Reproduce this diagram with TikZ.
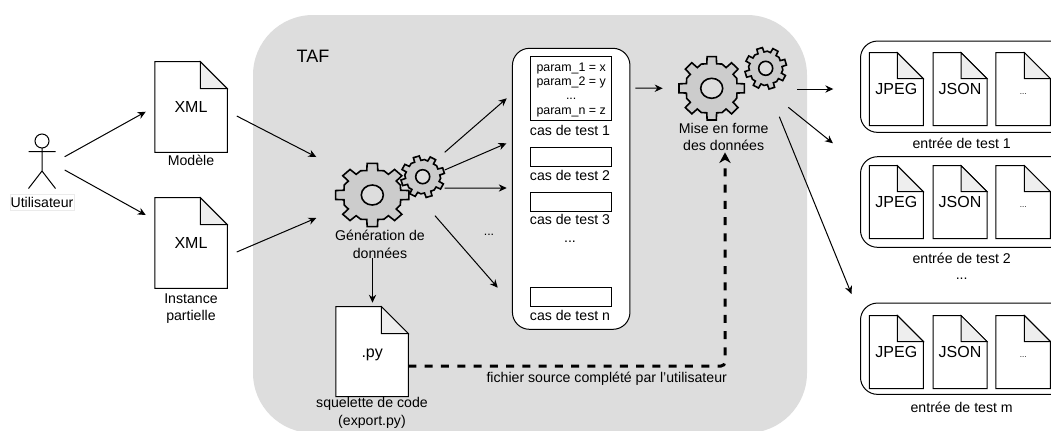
\documentclass[tikz,border=0pt]{standalone}
\usepackage{fontspec}
\setmainfont{Liberation Sans}
\usetikzlibrary{arrows.meta}

% a page with a folded corner: name, centre, width, height, fold, text
\newcommand{\docfile}[6]{
	\node[file style, minimum width=#3*0.75pt, minimum height=#4*0.75pt] (#1) at (#2) {};
	\draw[fill=white] (#1.north west) -- ([shift={(#3-#5,0)}]#1.north west) -- ([shift={(0,#5)}]#1.north east) -- (#1.south east) -- (#1.south west) -- cycle;
	\draw[fill=foldgray] ([shift={(#3-#5,0)}]#1.north west) -- ([shift={(0,#5)}]#1.north east) -- ([shift={(-#5,#5)}]#1.north east) -- cycle;
	\node[big style] (#1t) at (#1) {#6};
}
% outline of one gear inside a path: x, y, radius x, radius y, turn, hole x, hole y
\newcommand{\gearpath}[7]{
	({#1+0.82*#3*cos(#5-22.5)},{#2+0.82*#4*sin(#5-22.5)})
	foreach \a in {0,45,...,315} {
		-- ({#1+0.78*#3*cos(#5+\a-11)},{#2+0.78*#4*sin(#5+\a-11)})
		-- ({#1+#3*cos(#5+\a-8)},{#2+#4*sin(#5+\a-8)})
		-- ({#1+#3*cos(#5+\a+8)},{#2+#4*sin(#5+\a+8)})
		-- ({#1+0.78*#3*cos(#5+\a+11)},{#2+0.78*#4*sin(#5+\a+11)})
		-- ({#1+0.82*#3*cos(#5+\a+22.5)},{#2+0.82*#4*sin(#5+\a+22.5)})
	} -- cycle
	(#1,#2) ellipse [x radius=#6, y radius=#7]
}
\definecolor{tafgray}{HTML}{DDDDDD}
\definecolor{foldgray}{HTML}{EEEEEE}
\definecolor{geargray}{HTML}{CCCCCC}

\begin{document}
\begin{tikzpicture}[x=0.75pt, y=-0.75pt, line width=0.75pt,
	file style/.style={inner sep=0pt, outer sep=0pt},
	gear style/.style={inner sep=0pt, outer sep=0pt},
	label style/.style={align=center, inner sep=0pt, font=\fontsize{10.6}{13}\selectfont},
	param style/.style={inner sep=0pt, font=\fontsize{9.3}{11}\selectfont},
	big style/.style={inner sep=0pt, text height=8.6pt, text depth=0pt, font=\fontsize{12}{14}\selectfont},
	case style/.style={draw, fill=white, inner sep=0pt, minimum width=81*0.75pt},
	group style/.style={draw, fill=white, rounded corners=12.75pt, inner sep=0pt},
	link/.style={-{Stealth[length=6pt, width=5.5pt]}},
	source link/.style={line width=2.25pt, dash pattern=on 6pt off 6.2pt, rounded corners=3pt, -{Stealth[length=8pt, width=8.5pt]}}]
	\useasboundingbox (0,0) rectangle (1051,430);

	\node[fill=tafgray, rounded corners=45pt, inner sep=0pt, minimum width=554*0.75pt, minimum height=418*0.75pt] (B) at (530,224) {};
	\node[label style, font=\fontsize{13.5}{15}\selectfont] (T0) at (313,56.5) {TAF};

	% user
	\node[file style, minimum width=27*0.75pt, minimum height=55*0.75pt] (A) at (42,161.5) {};
	\draw (42,141) circle [radius=7] (42,148) -- (42,171) (28.5,151.7) -- (55.5,151.7) (28.5,188.5) -- (42,171) -- (55.5,188.5);
	\node[label style, draw=black!8, fill=white, minimum width=64*0.75pt, minimum height=16.5*0.75pt] (U) at (42,202.5) {Utilisateur};

	% input files
	\docfile{D1}{191,107}{72.5}{90.6}{27}{XML}
	\docfile{D2}{191,243}{72.5}{90.6}{27}{XML}
	\node[label style] (T1) at (191,160.5) {Modèle};
	\node[label style] (T2) at (191,308.5) {Instance\\partielle};

	\draw[link] ([shift={(9.2,-4.8)}]A.east) -- ([shift={(-9,4.7)}]D1.west);
	\draw[link] ([shift={(9.2,8.5)}]A.east) -- ([shift={(-9,-28)}]D2.west);

	% generation gears
	\node[gear style, minimum width=74*0.75pt, minimum height=64*0.75pt] (G1) at (372.3,195) {};
	\node[gear style, minimum width=44*0.75pt, minimum height=42*0.75pt] (G2) at (422.7,176.7) {};
	\draw[line width=1.2pt, fill=geargray, even odd rule] \gearpath{372.3}{195}{37}{32}{0}{11}{10} \gearpath{422.7}{176.7}{22}{21}{-17}{7}{7};
	\node[label style] (T3) at (380,244.5) {Génération de\\données};

	\draw[link] ([shift={(9.5,9)}]D1.east) -- ([shift={(-19,-38)}]G1.west);
	\draw[link] ([shift={(9.5,9)}]D2.east) -- ([shift={(-19,23)}]G1.west);

	% test cases
	\node[group style, minimum width=117.5*0.75pt, minimum height=281*0.75pt] (P) at (571.2,188.8) {};
	\node[case style, minimum height=64*0.75pt] (C1) at (571.2,88.7) {};
	\node[param style] (V1) at (571.2,68.3) {param\_1 = x};
	\node[param style] (V2) at (571.2,82.7) {param\_2 = y};
	\node[param style] (V3) at (571.2,99) {...};
	\node[param style] (V4) at (571.2,112.7) {param\_n = z};
	\node[label style] (L1) at (570,130) {cas de test 1};
	\node[case style, minimum height=19*0.75pt] (C2) at (571.2,156.5) {};
	\node[label style] (L2) at (570,175.7) {cas de test 2};
	\node[case style, minimum height=19*0.75pt] (C3) at (571.2,202.2) {};
	\node[label style] (L3) at (570,219.5) {cas de test 3};
	\node[label style] (L4) at (570,241.5) {...};
	\node[case style, minimum height=19*0.75pt] (C4) at (571.2,297.3) {};
	\node[label style] (L5) at (570,315) {cas de test n};

	\draw[link] ([shift={(0,-24.4)}]G2.east) -- ([shift={(-5.2,-90.5)}]P.west);
	\draw[link] ([shift={(0,-6.7)}]G2.east) -- ([shift={(-5.5,-45.5)}]P.west);
	\draw[link] ([shift={(0,11.3)}]G2.east) -- ([shift={(-5.2,-0.8)}]P.west);
	\draw[link] ([shift={(12.3,18)}]G2.south) -- ([shift={(-14.2,98.9)}]P.west);
	\node[param style] (T4) at (489,235) {...};

	% code skeleton
	\docfile{D3}{372.2,351.7}{72.5}{90}{27}{.py}
	\node[label style] (T5) at (372,413) {squelette de code\\(export.py)};
	\draw[link] ([shift={(0.2,31)}]G1.south) -- ([shift={(0.3,-4)}]D3.north);

	% formatting gears
	\node[gear style, minimum width=66*0.75pt, minimum height=64*0.75pt] (G3) at (711.7,88.3) {};
	\node[gear style, minimum width=42*0.75pt, minimum height=42*0.75pt] (G4) at (765.7,68.3) {};
	\draw[line width=1.2pt, fill=geargray, even odd rule] \gearpath{711.7}{88.3}{33}{32}{0}{11}{10} \gearpath{765.7}{68.3}{21}{21}{-17}{7}{7};
	\node[label style] (T6) at (723.7,137) {Mise en forme\\des données};
	\draw[link] ([shift={(5,-100.8)}]P.east) -- ([shift={(-16,0)}]G3.west);

	\draw[source link] ([shift={(0,14.3)}]D3.east) -| ([shift={(1.3,1)}]T6.south);
	\node[label style] (T7) at (606.7,378.5) {fichier source complété par l'utilisateur};

	% test inputs
	\node[group style, minimum width=208*0.75pt, minimum height=91.3*0.75pt] (R1) at (964.5,86.7) {};
	\node[group style, minimum width=208*0.75pt, minimum height=90.6*0.75pt] (R2) at (964.5,202) {};
	\node[group style, minimum width=208*0.75pt, minimum height=91.3*0.75pt] (R3) at (964.5,348.7) {};
	\docfile{J1}{896.3,89.2}{54}{73}{26}{JPEG}
	\docfile{N1}{960,89.2}{54}{73}{26}{JSON}
	\docfile{E1}{1023.2,89.2}{54.5}{73}{26}{\fontsize{6}{7}\selectfont ...}
	\docfile{J2}{896.3,202.2}{54}{73}{26}{JPEG}
	\docfile{N2}{960,202.2}{54}{73}{26}{JSON}
	\docfile{E2}{1023.2,202.2}{54.5}{73}{26}{\fontsize{6}{7}\selectfont ...}
	\docfile{J3}{896.3,352}{54}{73}{26}{JPEG}
	\docfile{N3}{960,352}{54}{73}{26}{JSON}
	\docfile{E3}{1023.2,352}{54.5}{73}{26}{\fontsize{6}{7}\selectfont ...}
	\node[label style] (I1) at (961.7,143.5) {entrée de test 1};
	\node[label style] (I2) at (961.7,258.5) {entrée de test 2};
	\node[label style] (I3) at (961.7,278.5) {...};
	\node[label style] (I4) at (961.7,407.5) {entrée de test m};

	\draw[link] ([shift={(10.6,20.7)}]G4.east) -- ([shift={(-26.7,2.3)}]R1.west);
	\draw[link] ([shift={(1.6,39)}]G4.east) -- ([shift={(-27,-58.7)}]R2.west);
	\draw[link] ([shift={(-7.4,48.4)}]G4.east) -- ([shift={(-8.5,-54.7)}]R3.west);
\end{tikzpicture}
\end{document}
